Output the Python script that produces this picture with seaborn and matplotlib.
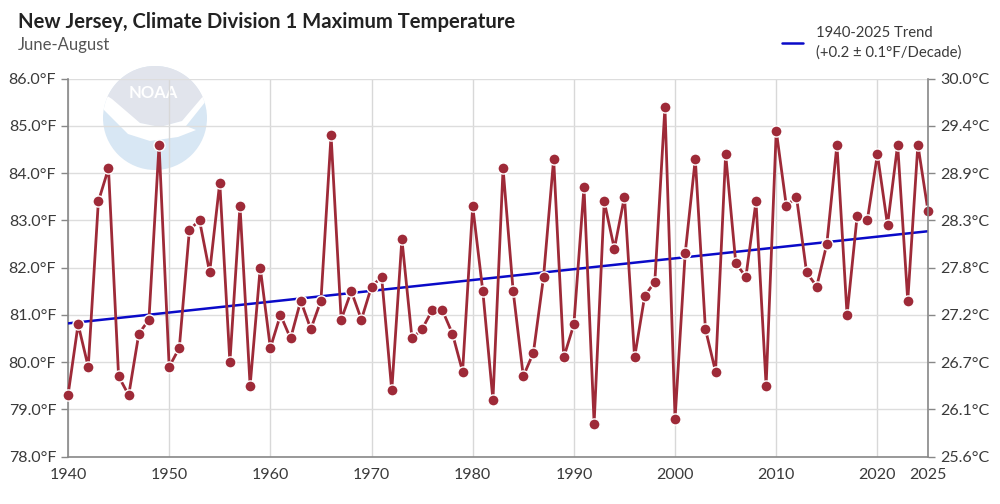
import numpy as np
import pandas as pd
import matplotlib
matplotlib.use("Agg")
import matplotlib.pyplot as plt
import seaborn as sns
from matplotlib.patches import Circle, Polygon

# Summer (Jun-Aug) maximum temperature, NJ Climate Division 1
years = list(range(1940, 2026))
temps_f = [
    79.3, 80.8, 79.9, 83.4, 84.1, 79.7, 79.3, 80.6, 80.9, 84.6,  # 1940s
    79.9, 80.3, 82.8, 83.0, 81.9, 83.8, 80.0, 83.3, 79.5, 82.0,  # 1950s
    80.3, 81.0, 80.5, 81.3, 80.7, 81.3, 84.8, 80.9, 81.5, 80.9,  # 1960s
    81.6, 81.8, 79.4, 82.6, 80.5, 80.7, 81.1, 81.1, 80.6, 79.8,  # 1970s
    83.3, 81.5, 79.2, 84.1, 81.5, 79.7, 80.2, 81.8, 84.3, 80.1,  # 1980s
    80.8, 83.7, 78.7, 83.4, 82.4, 83.5, 80.1, 81.4, 81.7, 85.4,  # 1990s
    78.8, 82.3, 84.3, 80.7, 79.8, 84.4, 82.1, 81.8, 83.4, 79.5,  # 2000s
    84.9, 83.3, 83.5, 81.9, 81.6, 82.5, 84.6, 81.0, 83.1, 83.0,  # 2010s
    84.4, 82.9, 84.6, 81.3, 84.6, 83.2,                          # 2020s
]
trend_years = [1940, 2025]
trend_f = [80.82, 82.77]
trend_label = "1940-2025 Trend\n(+0.2 \u00b1 0.1\u00b0F/Decade)"

f_ticks = [78, 79, 80, 81, 82, 83, 84, 85, 86]
x_ticks = [1940, 1950, 1960, 1970, 1980, 1990, 2000, 2010, 2020, 2025]

df = pd.DataFrame({"year": years, "temp": temps_f})
trend = pd.DataFrame({"year": trend_years, "temp": trend_f})

sns.set_style("white")
plt.rcParams["font.family"] = ["Lato", "DejaVu Sans"]

text_col = "#3a3a3a"
grid_col = "#dddddd"
spine_col = "#888888"
line_col = "#9e2a38"
trend_col = "#0a0ac8"

W, H = 1000, 504
fig = plt.figure(figsize=(W / 100, H / 100), dpi=100)
ax = fig.add_axes([0.068, 0.094, 0.860, 0.750])


def px(pts):
    # pixel coords (top-left origin) -> inches for the watermark
    return [[x / 100, (H - y) / 100] for x, y in pts]


# faded NOAA watermark, kept behind the axes
tr = fig.dpi_scale_trans
logo = Circle((1.55, (H - 118) / 100), 0.52, transform=tr,
              facecolor="#d8e7f4", edgecolor="none", zorder=-2)
fig.add_artist(logo)
sky = Polygon(px([(100, 60), (210, 60), (210, 90), (182, 121), (160, 127),
                  (140, 123), (104, 96)]),
              transform=tr, facecolor="#e1e4ec", edgecolor="none", zorder=-2)
sky.set_clip_path(logo)
fig.add_artist(sky)
bird = Polygon(px([(98, 90), (112, 99), (140, 123), (160, 127), (182, 121),
                   (210, 88), (210, 96), (186, 126), (196, 130), (178, 137),
                   (150, 141), (128, 134), (98, 104)]),
               transform=tr, facecolor="white", edgecolor="none", zorder=-2)
bird.set_clip_path(logo)
fig.add_artist(bird)
fig.text(1.53, (H - 93) / 100, "NOAA", transform=tr, color="white",
         fontsize=12, fontweight="bold", ha="center", va="center", zorder=-1)
ax.set_facecolor("none")

sns.lineplot(data=trend, x="year", y="temp", ax=ax, color=trend_col,
             linewidth=1.8, label=trend_label, zorder=3)
sns.lineplot(data=df, x="year", y="temp", ax=ax, color=line_col,
             linewidth=2, marker="o", markersize=8, markeredgecolor="white",
             markeredgewidth=1, zorder=4, clip_on=False)

ax.set_xlim(1940, 2025)
ax.set_ylim(78, 86)
ax.set_xticks(x_ticks)
ax.set_yticks(f_ticks)
ax.set_yticklabels([f"{v:.1f}\u00b0F" for v in f_ticks])
ax.set_xlabel("")
ax.set_ylabel("")
ax.grid(True, color=grid_col, linewidth=1)
ax.xaxis.grid(True, color="#d8d8d8")
for s in ["top", "right"]:
    ax.spines[s].set_visible(False)
for s in ["left", "bottom"]:
    ax.spines[s].set_color(spine_col)
    ax.spines[s].set_linewidth(1.2)
ax.tick_params(axis="both", colors=spine_col, labelcolor=text_col,
               labelsize=11.5, length=5, width=1)
ax.tick_params(axis="x", pad=3)

# Celsius axis on the right
ax2 = ax.twinx()
ax2.set_ylim(78, 86)
ax2.set_yticks(f_ticks)
ax2.set_yticklabels([f"{(v - 32) * 5 / 9:.1f}\u00b0C" for v in f_ticks])
for s in ["top", "left", "bottom"]:
    ax2.spines[s].set_visible(False)
ax2.spines["right"].set_color(spine_col)
ax2.spines["right"].set_linewidth(1.2)
ax2.tick_params(axis="y", colors=spine_col, labelcolor=text_col,
                labelsize=11.5, length=5, width=1)

leg = ax.legend(loc="upper right", bbox_to_anchor=(0.975, 0.975),
                bbox_transform=fig.transFigure, frameon=False,
                fontsize=10.7, handlelength=1.4, handletextpad=0.9)
for t in leg.get_texts():
    t.set_color(text_col)
    t.set_linespacing(1.45)

fig.text(0.018, 0.957, "New Jersey, Climate Division 1 Maximum Temperature",
         fontsize=14.6, fontweight="bold", color="#222222", va="center")
fig.text(0.018, 0.911, "June-August", fontsize=12, color="#555555", va="center")

fig.savefig("out.png", dpi=100)
